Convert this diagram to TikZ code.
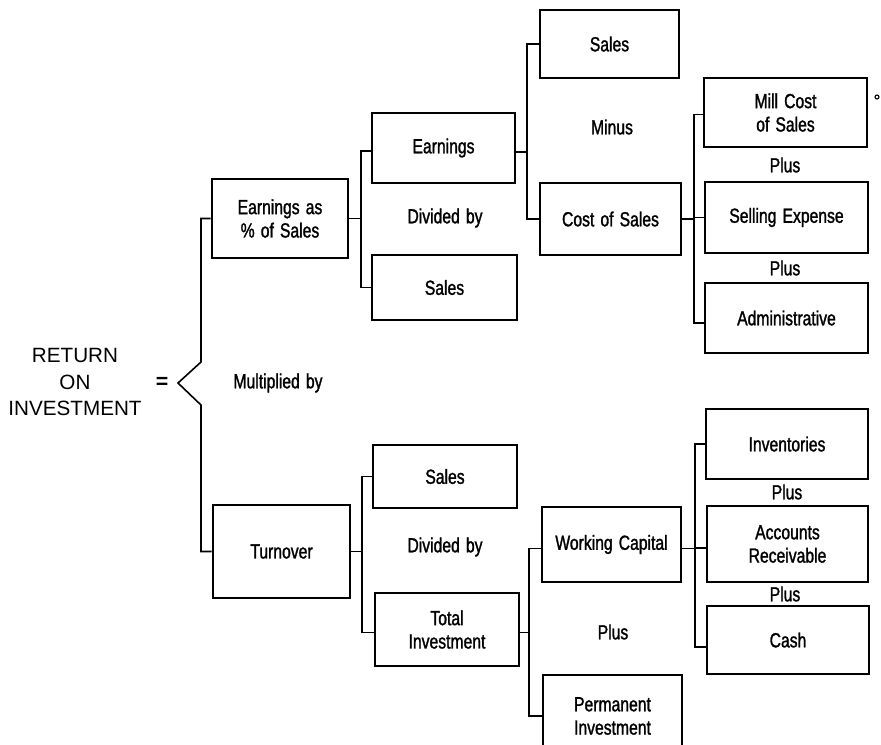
\documentclass[tikz,border=0pt]{standalone}
\usepackage{fontspec}
\setmainfont{Liberation Sans}
\newfontfamily\condfont[FakeStretch=0.77,FakeBold=1.4,WordSpace=1.4]{Liberation Sans}
\usetikzlibrary{calc}
\newcommand\bbox[6]{\node[box, minimum width={(#4-#2)*0.75pt}, minimum height={(#5-#3)*0.75pt}] (#1) at ({(#2+#4)/2},{(#3+#5)/2}) {#6};}
\begin{document}
\begin{tikzpicture}[x=0.75pt,y=-0.75pt,
  box/.style={draw, line width=1.9pt, inner sep=0pt, align=center, font=\condfont\fontsize{15.3}{17.5}\selectfont},
  lab/.style={inner sep=0pt, align=center, font=\condfont\fontsize{15.3}{17.5}\selectfont},
  conn/.style={line width=1.2pt},
  big/.style={inner sep=0pt, align=center, font=\fontsize{15.5}{20}\selectfont},
]
\useasboundingbox (0,0) rectangle (881,744);
\clip (0,0) rectangle (881,744);

% boxes
\bbox{eps}{212}{179}{348}{258}{Earnings as\\\% of Sales}
\bbox{earn}{372}{113}{515}{183}{Earnings}
\bbox{salesA}{372}{255}{517}{320}{Sales}
\bbox{salesT}{540}{10}{679}{78}{Sales}
\bbox{cos}{540}{183}{681}{255}{Cost of Sales}
\bbox{mill}{704}{78}{867}{147}{Mill Cost\\of Sales}
\bbox{sell}{705}{182}{868}{253}{Selling Expense}
\bbox{admin}{705}{283}{868}{353}{Administrative}
\bbox{turn}{213}{505}{350}{598}{Turnover}
\bbox{salesB}{373}{445}{517}{508}{Sales}
\bbox{tinv}{375}{593}{519}{666}{Total\\Investment}
\bbox{wc}{542}{507}{681}{582}{Working Capital}
\bbox{perm}{543}{675}{682}{757}{Permanent\\Investment}
\bbox{inv}{706}{409}{868}{479}{Inventories}
\bbox{ar}{707}{506}{868}{582}{Accounts\\Receivable}
\bbox{cash}{707}{606}{869}{674}{Cash}

% labels
\node[big] (roi) at (75,382) {RETURN\\ON\\INVESTMENT};
\node[big, font=\bfseries\fontsize{16}{16}\selectfont] (eq) at (162,383) {=};
\node[lab] (mult) at (278,383) {Multiplied by};
\node[lab] (div1) at (445,218) {Divided by};
\node[lab] (minus) at (612,127) {Minus};
\node[lab] (plus1) at (785,165) {Plus};
\node[lab] (plus2) at (785,268) {Plus};
\node[lab] (div2) at (445,547) {Divided by};
\node[lab] (plus3) at (613,632) {Plus};
\node[lab] (plus4) at (787,492) {Plus};
\node[lab] (plus5) at (785,594) {Plus};
\node[draw, circle, line width=0.8pt, inner sep=0pt, minimum size=3pt] (dot) at (877,97) {};

% junction coordinates
\coordinate (bx) at (201,383);
\coordinate (tip) at (178,383);
\coordinate (j1) at (361,0);
\coordinate (j2) at (527,0);
\coordinate (j3) at (694,0);
\coordinate (j4) at (362,0);
\coordinate (j5) at (529,0);
\coordinate (j6) at (695,0);

% main bracket
\draw[conn] (eps.west) -- (eps.west -| bx) -- ($(bx)+(0,-21)$) -- (tip) -- ($(bx)+(0,22)$) -- (turn.west -| bx) -- (turn.west);

% upper branch
\draw[conn] (eps.east) -- (eps.east -| j1);
\draw[conn] ($(earn.west)+(0,3)$) -- ($(earn.west -| j1)+(0,3)$) -- (salesA.west -| j1) -- (salesA.west);
\draw[conn] ($(earn.east)+(0,4)$) -- ($(earn.east -| j2)+(0,4)$);
\draw[conn] (salesT.west) -- (salesT.west -| j2) -- (cos.west -| j2) -- (cos.west);
\draw[conn] (cos.east) -- (cos.east -| j3);
\draw[conn] ($(mill.west)+(0,2)$) -- ($(mill.west -| j3)+(0,2)$) -- ($(admin.west -| j3)+(0,5)$) -- ($(admin.west)+(0,5)$);
\draw[conn] (sell.west) -- (sell.west -| j3);

% lower branch
\draw[conn] (turn.east) -- (turn.east -| j4);
\draw[conn] (salesB.west) -- (salesB.west -| j4) -- ($(tinv.west -| j4)+(0,3)$) -- ($(tinv.west)+(0,3)$);
\draw[conn] ($(tinv.east)+(0,3)$) -- ($(tinv.east -| j5)+(0,3)$);
\draw[conn] ($(wc.west)+(0,4)$) -- ($(wc.west -| j5)+(0,4)$) -- (perm.west -| j5) -- (perm.west);
\draw[conn] ($(wc.east)+(0,4)$) -- ($(wc.east -| j6)+(0,4)$);
\draw[conn] (inv.west) -- (inv.west -| j6) -- ($(cash.west -| j6)+(0,7)$) -- ($(cash.west)+(0,7)$);
\draw[conn] ($(ar.west)+(0,4)$) -- ($(ar.west -| j6)+(0,4)$);
\end{tikzpicture}
\end{document}
